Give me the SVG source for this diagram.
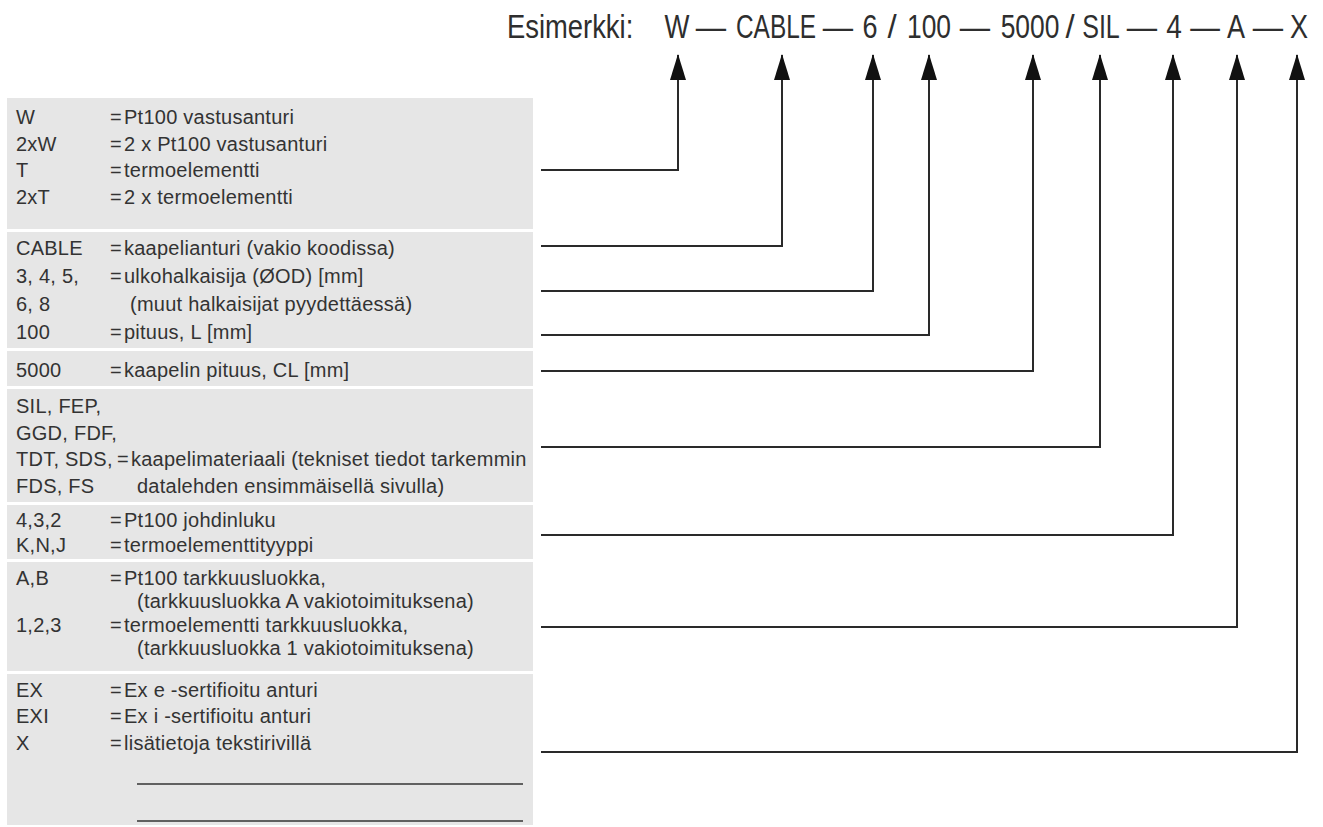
<svg xmlns="http://www.w3.org/2000/svg" width="1323" height="827" viewBox="0 0 1323 827">
<defs>
<style>
.hd{font-family:"Liberation Sans",Arial,sans-serif;font-size:33px;fill:#2e2e2e;}
.hd text{text-anchor:middle;}
.hd text.st{text-anchor:start;}
.tx{font-family:"Liberation Sans",Arial,sans-serif;font-size:20px;letter-spacing:0.25px;fill:#333;}
.cn{fill:none;stroke:#2a2a2a;stroke-width:2;}
.sep{fill:#fff;}
.ul{stroke:#333;stroke-width:1.6;}
</style>
<marker id="ah" markerUnits="userSpaceOnUse" markerWidth="26" markerHeight="16" viewBox="0 0 26 16" refX="25" refY="8" orient="auto">
<path d="M0,0 L26,8 L0,16 z" fill="#111"/>
</marker>
</defs>
<rect width="1323" height="827" fill="#fff"/>

<g id="header" class="hd">
<text class="st" transform="translate(507,38) scale(0.83,1)">Esimerkki:</text>
<text transform="translate(677,38) scale(0.8,1)">W</text>
<text transform="translate(711,38) scale(0.92,1)">—</text>
<text transform="translate(776,38) scale(0.74,1)">CABLE</text>
<text transform="translate(838,38) scale(0.92,1)">—</text>
<text transform="translate(870,38) scale(0.82,1)">6</text>
<text transform="translate(892,38)">/</text>
<text transform="translate(929,38) scale(0.8,1)">100</text>
<text transform="translate(975,38) scale(0.92,1)">—</text>
<text transform="translate(1030,38) scale(0.8,1)">5000</text>
<text transform="translate(1070,38)">/</text>
<text transform="translate(1101,38) scale(0.76,1)">SIL</text>
<text transform="translate(1142,38) scale(0.92,1)">—</text>
<text transform="translate(1174,38) scale(0.85,1)">4</text>
<text transform="translate(1205,38) scale(0.9,1)">—</text>
<text transform="translate(1236,38) scale(0.82,1)">A</text>
<text transform="translate(1268,38) scale(0.92,1)">—</text>
<text transform="translate(1299,38) scale(0.82,1)">X</text>
</g>

<g id="table-bg">
<rect x="7" y="98" width="526" height="727" fill="#e6e6e6"/>
<rect class="sep" x="7" y="229" width="526" height="3"/>
<rect class="sep" x="7" y="348" width="526" height="3"/>
<rect class="sep" x="7" y="386" width="526" height="3"/>
<rect class="sep" x="7" y="502" width="526" height="3"/>
<rect class="sep" x="7" y="559" width="526" height="3"/>
<rect class="sep" x="7" y="671" width="526" height="3"/>
</g>

<g id="sensor-type" class="tx">
<text y="124"><tspan x="16">W</tspan><tspan x="110">=</tspan><tspan x="124">Pt100 vastusanturi</tspan></text>
<text y="151"><tspan x="16">2xW</tspan><tspan x="110">=</tspan><tspan x="124">2 x Pt100 vastusanturi</tspan></text>
<text y="177"><tspan x="16">T</tspan><tspan x="110">=</tspan><tspan x="124">termoelementti</tspan></text>
<text y="204"><tspan x="16">2xT</tspan><tspan x="110">=</tspan><tspan x="124">2 x termoelementti</tspan></text>
</g>

<g id="cable" class="tx">
<text y="255"><tspan x="16">CABLE</tspan><tspan x="110">=</tspan><tspan x="124">kaapelianturi (vakio koodissa)</tspan></text>
</g>

<g id="diameter" class="tx">
<text y="283"><tspan x="16">3, 4, 5,</tspan><tspan x="110">=</tspan><tspan x="124">ulkohalkaisija (ØOD) [mm]</tspan></text>
<text y="311"><tspan x="16">6, 8</tspan><tspan x="130">(muut halkaisijat pyydettäessä)</tspan></text>
</g>

<g id="length" class="tx">
<text y="339"><tspan x="16">100</tspan><tspan x="110">=</tspan><tspan x="124">pituus, L [mm]</tspan></text>
</g>

<g id="cable-length" class="tx">
<text y="377"><tspan x="16">5000</tspan><tspan x="110">=</tspan><tspan x="124">kaapelin pituus, CL [mm]</tspan></text>
</g>

<g id="cable-material" class="tx">
<text x="16" y="413">SIL, FEP,</text>
<text x="16" y="440">GGD, FDF,</text>
<text y="466"><tspan x="16">TDT, SDS,</tspan><tspan x="117">=</tspan><tspan x="131">kaapelimateriaali (tekniset tiedot tarkemmin</tspan></text>
<text y="493"><tspan x="16">FDS, FS</tspan><tspan x="137">datalehden ensimmäisellä sivulla)</tspan></text>
</g>

<g id="wires" class="tx">
<text y="527"><tspan x="16">4,3,2</tspan><tspan x="110">=</tspan><tspan x="124">Pt100 johdinluku</tspan></text>
<text y="552"><tspan x="16">K,N,J</tspan><tspan x="110">=</tspan><tspan x="124">termoelementtityyppi</tspan></text>
</g>

<g id="accuracy" class="tx">
<text y="585"><tspan x="16">A,B</tspan><tspan x="110">=</tspan><tspan x="124">Pt100 tarkkuusluokka,</tspan></text>
<text x="137" y="608">(tarkkuusluokka A vakiotoimituksena)</text>
<text y="632"><tspan x="16">1,2,3</tspan><tspan x="110">=</tspan><tspan x="124">termoelementti tarkkuusluokka,</tspan></text>
<text x="137" y="655">(tarkkuusluokka 1 vakiotoimituksena)</text>
</g>

<g id="options" class="tx">
<text y="697"><tspan x="16">EX</tspan><tspan x="110">=</tspan><tspan x="124">Ex e -sertifioitu anturi</tspan></text>
<text y="723"><tspan x="16">EXI</tspan><tspan x="110">=</tspan><tspan x="124">Ex i -sertifioitu anturi</tspan></text>
<text y="750"><tspan x="16">X</tspan><tspan x="110">=</tspan><tspan x="124">lisätietoja tekstirivillä</tspan></text>
<line class="ul" x1="137" y1="784" x2="523" y2="784"/>
<line class="ul" x1="137" y1="821" x2="523" y2="821"/>
</g>

<g id="connectors">
<path class="cn" d="M541,170 H678 V55" marker-end="url(#ah)"/>
<path class="cn" d="M541,246 H782 V55" marker-end="url(#ah)"/>
<path class="cn" d="M541,291 H873 V55" marker-end="url(#ah)"/>
<path class="cn" d="M541,335 H929 V55" marker-end="url(#ah)"/>
<path class="cn" d="M541,371 H1033 V55" marker-end="url(#ah)"/>
<path class="cn" d="M541,447 H1100 V55" marker-end="url(#ah)"/>
<path class="cn" d="M541,535 H1173 V55" marker-end="url(#ah)"/>
<path class="cn" d="M541,627 H1237 V55" marker-end="url(#ah)"/>
<path class="cn" d="M541,752 H1297 V55" marker-end="url(#ah)"/>
</g>
</svg>
